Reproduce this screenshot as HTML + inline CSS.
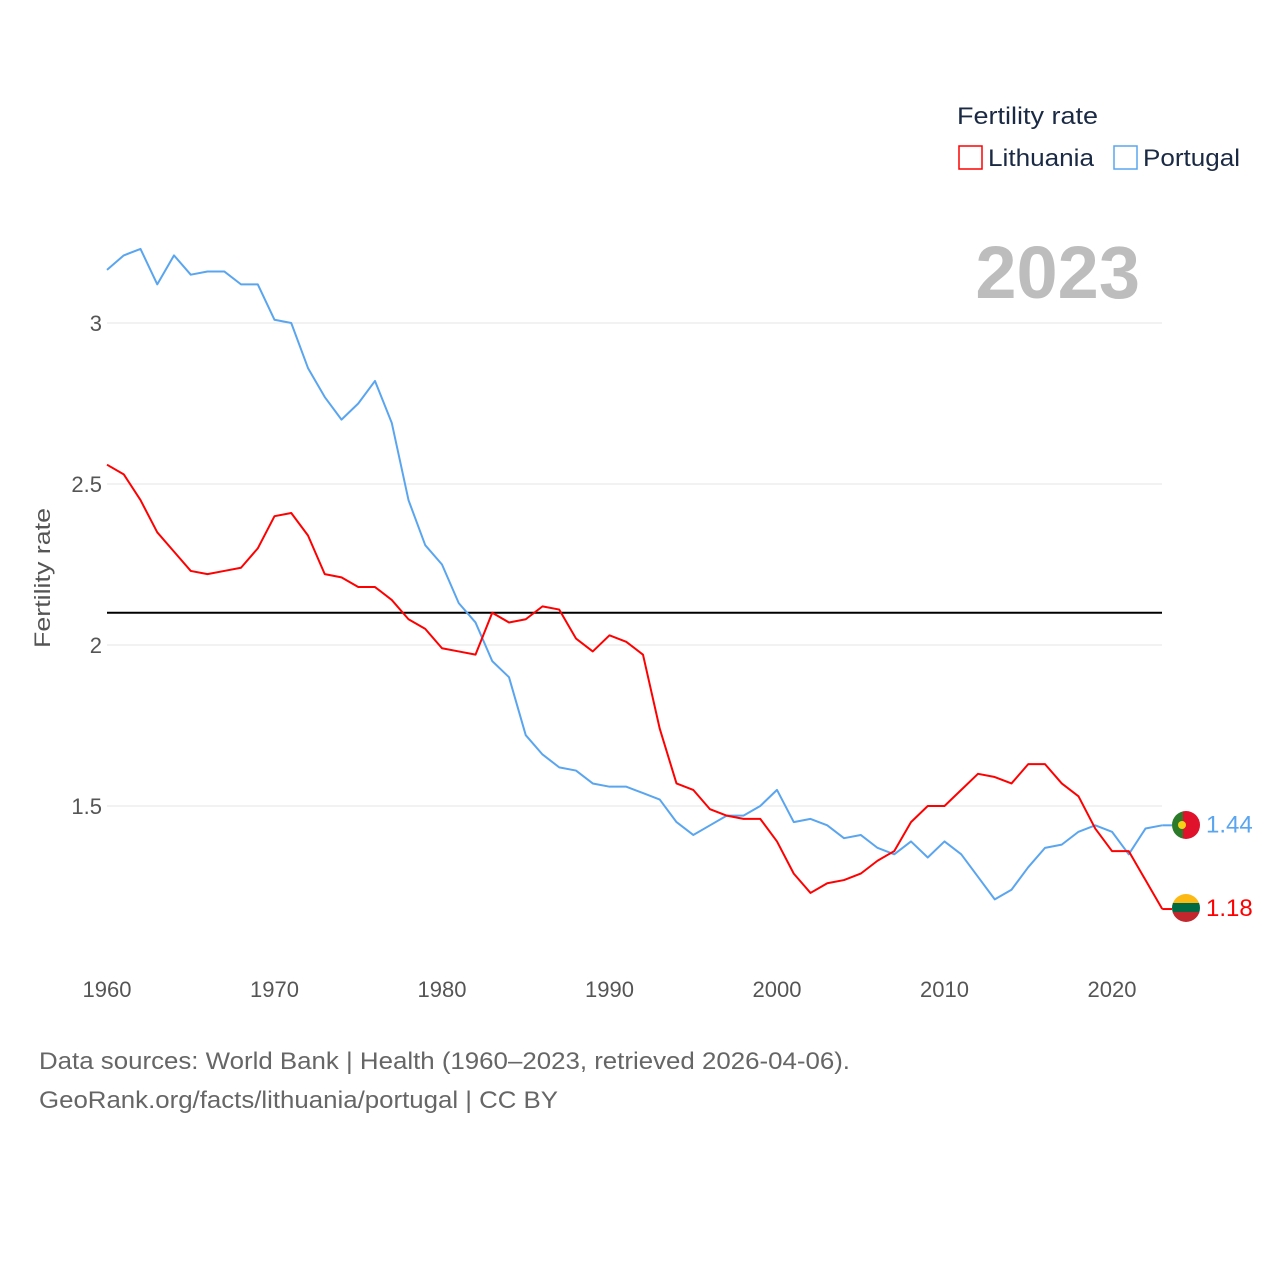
<!DOCTYPE html>
<html><head><meta charset="utf-8"><style>
body{margin:0;background:#fff;font-family:"Liberation Sans",sans-serif}
svg text{font-family:"Liberation Sans",sans-serif}
</style></head><body>
<svg id="chart" width="1280" height="1280" xmlns="http://www.w3.org/2000/svg">
<g id="grid"></g>
<g id="yticks"></g>
<g id="xticks"></g>
<text transform="translate(50,578) rotate(-90)" text-anchor="middle" font-size="22" fill="#555" textLength="140" lengthAdjust="spacingAndGlyphs">Fertility rate</text>
<text x="1140" y="298" text-anchor="end" font-size="74" font-weight="bold" fill="#bdbdbd">2023</text>
<line id="ref" stroke="#000" stroke-width="2"/>
<g id="series"></g>
<g>
<text x="957" y="124" font-size="24" fill="#1a2a44" textLength="141" lengthAdjust="spacingAndGlyphs">Fertility rate</text>
<rect x="959" y="146" width="23" height="23" fill="none" stroke="#f00" stroke-width="1.5"/>
<text x="988" y="166" font-size="24" fill="#1a2a44" textLength="106" lengthAdjust="spacingAndGlyphs">Lithuania</text>
<rect x="1114" y="146" width="23" height="23" fill="none" stroke="#5aa5ef" stroke-width="1.5"/>
<text x="1143" y="166" font-size="24" fill="#1a2a44" textLength="97" lengthAdjust="spacingAndGlyphs">Portugal</text>
</g>
<g>
<clipPath id="cp1"><circle cx="1186" cy="825" r="14"/></clipPath>
<g clip-path="url(#cp1)"><rect x="1172" y="811" width="11" height="28" fill="#2a7a2a"/><rect x="1183" y="811" width="17" height="28" fill="#e0112b"/><circle cx="1182" cy="825" r="4" fill="#f7d116"/></g>
</g>
<g>
<clipPath id="cp2"><circle cx="1186" cy="908" r="14"/></clipPath>
<g clip-path="url(#cp2)"><rect x="1172" y="894" width="28" height="10" fill="#fdb913"/><rect x="1172" y="903" width="28" height="10" fill="#006a44"/><rect x="1172" y="912" width="28" height="10" fill="#c1272d"/></g>
</g>
<text id="ptval" x="1206" y="831" font-size="24" fill="#5aa5ef">1.44</text>
<text id="ltval" x="1206" y="915" font-size="24" fill="#f00">1.18</text>
<text x="39" y="1069" font-size="24" fill="#666" textLength="811" lengthAdjust="spacingAndGlyphs">Data sources: World Bank | Health (1960–2023, retrieved 2026-04-06).</text>
<text x="39" y="1108" font-size="24" fill="#666" textLength="519" lengthAdjust="spacingAndGlyphs">GeoRank.org/facts/lithuania/portugal | CC BY</text>
</svg>
<script>
const startYear = 1960;
const portugal = [3.165,3.21,3.23,3.12,3.21,3.15,3.16,3.16,3.12,3.12,3.01,3.00,2.86,2.77,2.70,2.75,2.82,2.69,2.45,2.31,2.25,2.13,2.07,1.95,1.90,1.72,1.66,1.62,1.61,1.57,1.56,1.56,1.54,1.52,1.45,1.41,1.44,1.47,1.47,1.50,1.55,1.45,1.46,1.44,1.40,1.41,1.37,1.35,1.39,1.34,1.39,1.35,1.28,1.21,1.24,1.31,1.37,1.38,1.42,1.44,1.42,1.35,1.43,1.44];
const lithuania = [2.56,2.53,2.45,2.35,2.29,2.23,2.22,2.23,2.24,2.30,2.40,2.41,2.34,2.22,2.21,2.18,2.18,2.14,2.08,2.05,1.99,1.98,1.97,2.10,2.07,2.08,2.12,2.11,2.02,1.98,2.03,2.01,1.97,1.74,1.57,1.55,1.49,1.47,1.46,1.46,1.39,1.29,1.23,1.26,1.27,1.29,1.33,1.36,1.45,1.50,1.50,1.55,1.60,1.59,1.57,1.63,1.63,1.57,1.53,1.43,1.36,1.36,1.27,1.18];
const yTicks = [1.5,2,2.5,3];
const xTicks = [1960,1970,1980,1990,2000,2010,2020];
const replacement = 2.1;
const NS="http://www.w3.org/2000/svg";
const X0=107,X1=1162;
function xs(yr){return 107+(yr-1960)*16.75;}
function ys(v){return 323+(3-v)*322;}
const grid=document.getElementById('grid'),yt=document.getElementById('yticks'),xt=document.getElementById('xticks');
yTicks.forEach(t=>{
 const l=document.createElementNS(NS,'line');
 l.setAttribute('x1',X0);l.setAttribute('x2',X1);l.setAttribute('y1',ys(t));l.setAttribute('y2',ys(t));
 l.setAttribute('stroke','#e6e6e6');l.setAttribute('stroke-width','1');
 
 
 grid.appendChild(l);
 const tx=document.createElementNS(NS,'text');
 tx.setAttribute('x',102);tx.setAttribute('y',ys(t)+8);tx.setAttribute('text-anchor','end');
 tx.setAttribute('font-size','22');tx.setAttribute('fill','#555');tx.textContent=String(t);
 
 
 yt.appendChild(tx);
});
xTicks.forEach(t=>{
 const tx=document.createElementNS(NS,'text');
 tx.setAttribute('x',xs(t));tx.setAttribute('y',997);tx.setAttribute('text-anchor','middle');
 tx.setAttribute('font-size','22');tx.setAttribute('fill','#555');tx.textContent=String(t);
 
 
 xt.appendChild(tx);
});
const ref=document.getElementById('ref');
ref.setAttribute('x1',X0);ref.setAttribute('x2',X1);ref.setAttribute('y1',ys(replacement));ref.setAttribute('y2',ys(replacement));
function drawLine(vals,color,name){
 const p=document.createElementNS(NS,'polyline');
 p.setAttribute('points',vals.map((v,i)=>xs(startYear+i)+','+ys(v)).join(' '));
 p.setAttribute('fill','none');p.setAttribute('stroke',color);p.setAttribute('stroke-width','2');
 p.setAttribute('stroke-linejoin','round');
 
 
 document.getElementById('series').appendChild(p);
 const last=vals[vals.length-1];
 const c=document.createElementNS(NS,'line');
 c.setAttribute('x1',xs(startYear+vals.length-1));c.setAttribute('x2',1172);
 c.setAttribute('y1',ys(last));c.setAttribute('y2',ys(last));
 c.setAttribute('stroke',color);c.setAttribute('stroke-width','2');
 
 
 document.getElementById('series').appendChild(c);
}
drawLine(portugal,'#5aa5ef','portugal-line');
drawLine(lithuania,'#f00','lithuania-line');
const pl=portugal[portugal.length-1],ll=lithuania[lithuania.length-1];
document.getElementById('ptval').textContent=pl.toFixed(2);
document.getElementById('ptval').setAttribute('y',ys(pl)+7);
document.getElementById('ltval').textContent=ll.toFixed(2);
document.getElementById('ltval').setAttribute('y',ys(ll)+7);
</script>
</body></html>
